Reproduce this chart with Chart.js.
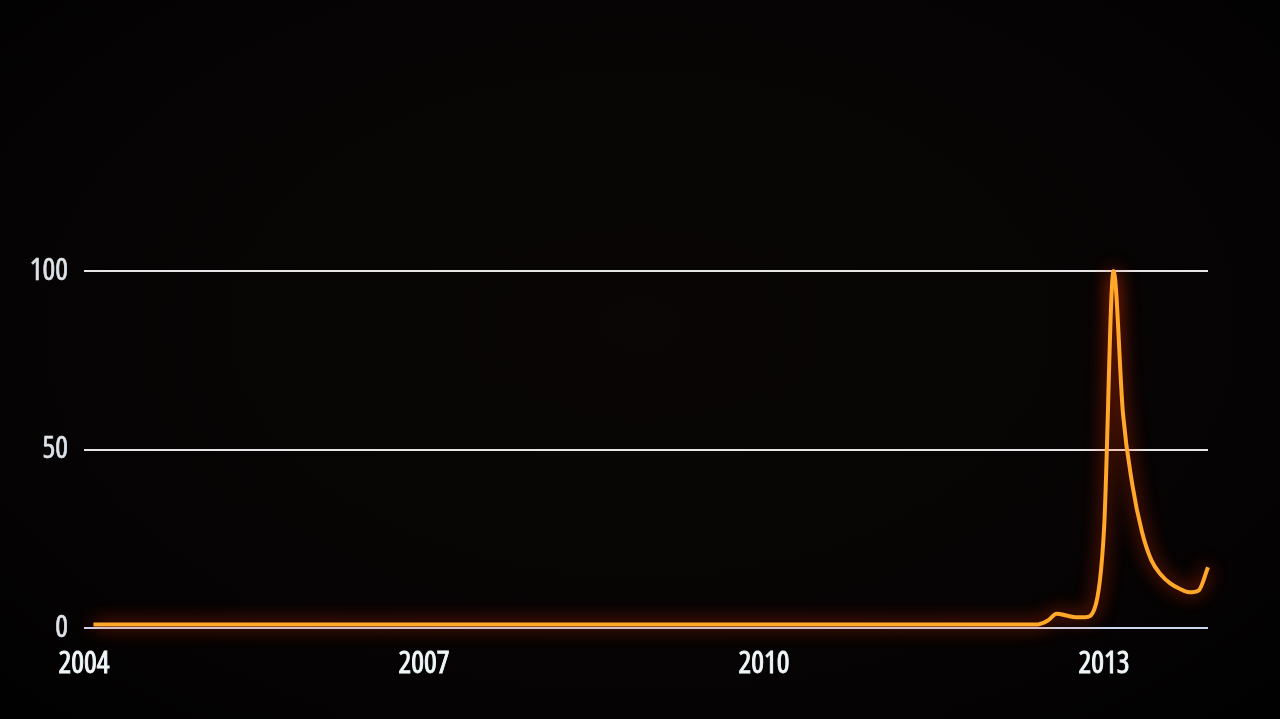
<!DOCTYPE html>
<html>
<head>
<meta charset="utf-8">
<script src="https://cdn.jsdelivr.net/npm/chart.js@4/dist/chart.umd.min.js"></script>
<style>
  html, body { margin: 0; padding: 0; background: #050303; }
  #wrap { width: 1280px; height: 719px; position: relative;
    background: radial-gradient(ellipse at 50% 45%, #0a0606 0%, #050303 70%, #020101 100%); }
  canvas { display: block; }
</style>
</head>
<body>
<div id="wrap"><canvas id="c" width="1280" height="719"></canvas></div>
<script>
// Monthly categories, Jan 2004 .. Dec 2013
const years = [2004, 2005, 2006, 2007, 2008, 2009, 2010, 2011, 2012, 2013];
const months = ['01','02','03','04','05','06','07','08','09','10','11','12'];
const categories = [];
years.forEach(y => months.forEach(m => categories.push(y + '-' + m)));

// Relative interest (0-100), one value per month
const interest = [
  null, 1, 1, 1, 1, 1, 1, 1, 1, 1, 1, 1,          // 2004
  1, 1, 1, 1, 1, 1, 1, 1, 1, 1, 1, 1,             // 2005
  1, 1, 1, 1, 1, 1, 1, 1, 1, 1, 1, 1,             // 2006
  1, 1, 1, 1, 1, 1, 1, 1, 1, 1, 1, 1,             // 2007
  1, 1, 1, 1, 1, 1, 1, 1, 1, 1, 1, 1,             // 2008
  1, 1, 1, 1, 1, 1, 1, 1, 1, 1, 1, 1,             // 2009
  1, 1, 1, 1, 1, 1, 1, 1, 1, 1, 1, 1,             // 2010
  1, 1, 1, 1, 1, 1, 1, 1, 1, 1, 1, 1,             // 2011
  1, 1, 1, 1, 1, 1, 2, 4, 3.5, 3, 3, 5.5,         // 2012
  28, 100, 60, 40, 27, 19, 15, 12.5, 11, 10, 10.5, 17 // 2013
];

const yTicks = [0, 50, 100];
const xTickYears = ['2004', '2007', '2010', '2013'];

// condensed face of Open Sans (font-stretch keyword goes through the weight slot)
const labelFont = { family: "'Open Sans', 'Roboto Condensed', sans-serif", weight: 'condensed', size: 30 };

const glow = {
  id: 'glow',
  beforeDatasetDraw(chart) {
    const ctx = chart.ctx;
    ctx.save();
    ctx.shadowColor = 'rgba(255, 55, 0, 0.9)';
    ctx.shadowBlur = 18;
  },
  afterDatasetDraw(chart) {
    chart.ctx.restore();
  }
};

new Chart(document.getElementById('c'), {
  type: 'line',
  data: {
    labels: categories,
    datasets: [{
      data: interest,
      borderColor: '#ffa82a',
      borderWidth: 4,
      pointRadius: 0,
      fill: false,
      cubicInterpolationMode: 'monotone',
      clip: false
    }]
  },
  options: {
    responsive: false,
    animation: false,
    events: [],
    layout: { padding: { left: 0, right: 72, top: 271, bottom: 0 } },
    plugins: { legend: { display: false }, tooltip: { enabled: false } },
    scales: {
      x: {
        type: 'category',
        offset: false,
        grid: { display: false, drawTicks: false },
        border: { display: false },
        afterFit(scale) { scale.height = 719 - 628; },
        ticks: {
          autoSkip: false,
          maxRotation: 0,
          padding: 18,
          color: '#eef6f8',
          textStrokeColor: '#eef6f8',
          textStrokeWidth: 0.9,
          font: labelFont,
          callback(value) {
            const lab = this.getLabelForValue(value);
            const [y, m] = lab.split('-');
            return (m === '01' && xTickYears.includes(y)) ? y : null;
          }
        }
      },
      y: {
        min: 0,
        max: 100,
        afterBuildTicks(scale) { scale.ticks = yTicks.map(v => ({ value: v })); },
        afterFit(scale) { scale.width = 84; },
        grid: {
          drawTicks: false,
          lineWidth: 2,
          color: ctx => ctx.tick && ctx.tick.value === 0 ? '#cdd6ec' : '#e6e6e6'
        },
        border: { display: false },
        ticks: {
          padding: 16,
          color: '#dde3e8',
          textStrokeColor: '#dde3e8',
          textStrokeWidth: 0.6,
          font: labelFont
        }
      }
    }
  },
  plugins: [glow]
});
</script>
</body>
</html>
